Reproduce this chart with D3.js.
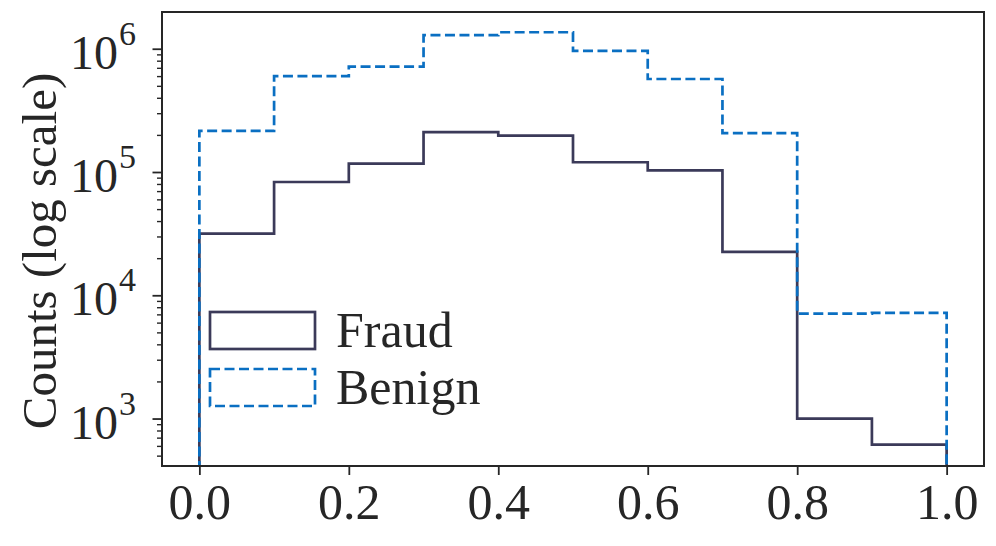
<!DOCTYPE html>
<html>
<head>
<meta charset="utf-8">
<script src="https://cdn.jsdelivr.net/npm/d3@7"></script>
<style>
  body { margin: 0; background: #fff; }
  svg { display: block; }
  text { font-family: "Liberation Serif", "Times New Roman", serif; fill: #262626; }
</style>
</head>
<body>
<svg id="chart" width="996" height="546"></svg>
<script>
// bins of the score histogram
var binEdges = [0.0, 0.1, 0.2, 0.3, 0.4, 0.5, 0.6, 0.7, 0.8, 0.9, 1.0];
var fraudCounts  = [31600, 83000, 117000, 211000, 197000, 120000, 103000, 22500, 1000, 615];
var benignCounts = [216000, 600000, 715000, 1290000, 1360000, 960000, 568000, 207000, 7100, 7200];
var xTicks = [0.0, 0.2, 0.4, 0.6, 0.8, 1.0];
var yTicks = [1e3, 1e4, 1e5, 1e6];
var seriesNames = ['Fraud', 'Benign'];

var W = 996, H = 546;
var m = {left: 162, right: 12, top: 12, bottom: 80};

var svg = d3.select('#chart');

var x = d3.scaleLinear().domain([-0.05, 1.05]).range([m.left, W - m.right]);
var y = d3.scaleLog().domain([Math.pow(10, 2.615), Math.pow(10, 6.298)]).range([H - m.bottom, m.top]);

svg.append('clipPath').attr('id', 'clip')
  .append('rect')
  .attr('x', m.left).attr('y', m.top)
  .attr('width', W - m.left - m.right).attr('height', H - m.top - m.bottom);

// step outline like hist(histtype='step')
function stepPath(counts) {
  var yb = H - m.bottom + 5;
  var p = 'M' + x(binEdges[0]) + ',' + yb;
  counts.forEach(function(c, i) {
    p += 'L' + x(binEdges[i]) + ',' + y(c) + 'L' + x(binEdges[i + 1]) + ',' + y(c);
  });
  p += 'L' + x(binEdges[binEdges.length - 1]) + ',' + yb;
  return p;
}

var g = svg.append('g').attr('clip-path', 'url(#clip)');
g.append('path')
  .attr('d', stepPath(fraudCounts))
  .attr('fill', 'none').attr('stroke', '#3b3a59').attr('stroke-width', 2.7)
  .attr('stroke-linejoin', 'miter');
g.append('path')
  .attr('d', stepPath(benignCounts))
  .attr('fill', 'none').attr('stroke', '#0a6fc2').attr('stroke-width', 2.7)
  .attr('stroke-dasharray', '10,4.5');

// x axis
var xAxis = svg.append('g')
  .attr('transform', 'translate(0,' + (H - m.bottom) + ')')
  .call(d3.axisBottom(x).tickValues(xTicks).tickSize(9).tickPadding(8).tickFormat(d3.format('.1f')));
xAxis.select('.domain').remove();
xAxis.selectAll('line').attr('stroke', '#262626').attr('stroke-width', 1.8);
xAxis.selectAll('text').style('font-size', '50px').attr('fill', '#262626');

// y axis: minor ticks then majors
var minor = [];
for (var e = 2; e <= 6; e++) {
  for (var k = 2; k <= 9; k++) {
    var v = k * Math.pow(10, e);
    if (v >= y.domain()[0] && v <= y.domain()[1]) minor.push(v);
  }
}
var yMinor = svg.append('g')
  .attr('transform', 'translate(' + m.left + ',0)')
  .call(d3.axisLeft(y).tickValues(minor).tickSize(5).tickFormat(''));
yMinor.select('.domain').remove();
yMinor.selectAll('line').attr('stroke', '#262626').attr('stroke-width', 1.4);

var yAxis = svg.append('g')
  .attr('transform', 'translate(' + m.left + ',0)')
  .call(d3.axisLeft(y).tickValues(yTicks).tickSize(9.5).tickFormat(''));
yAxis.select('.domain').remove();
yAxis.selectAll('line').attr('stroke', '#262626').attr('stroke-width', 1.8);

var yl = svg.append('g');
yTicks.forEach(function(t) {
  yl.append('text')
    .attr('x', 118).attr('y', y(t) + 20)
    .attr('text-anchor', 'end')
    .style('font-size', '48px')
    .text('10');
  yl.append('text')
    .attr('x', 119).attr('y', y(t) - 4)
    .style('font-size', '34px')
    .text(Math.round(Math.log10(t)));
});

// frame
svg.append('rect')
  .attr('x', m.left).attr('y', m.top)
  .attr('width', W - m.left - m.right).attr('height', H - m.top - m.bottom)
  .attr('fill', 'none').attr('stroke', '#262626').attr('stroke-width', 2);

// y label
svg.append('text')
  .attr('transform', 'translate(56,251) rotate(-90)')
  .attr('text-anchor', 'middle')
  .style('font-size', '49px')
  .text('Counts (log scale)');

// legend
var leg = svg.append('g');
seriesNames.forEach(function(name, i) {
  var ly = 312 + i * 57;
  var r = leg.append('rect')
    .attr('x', 210).attr('y', ly).attr('width', 105).attr('height', 37)
    .attr('fill', 'none')
    .attr('stroke', i === 0 ? '#3b3a59' : '#0a6fc2')
    .attr('stroke-width', 2.7);
  if (i === 1) r.attr('stroke-dasharray', '10,4.5');
  leg.append('text')
    .attr('x', 336).attr('y', ly + 35)
    .style('font-size', '50px')
    .text(name);
});
</script>
</body>
</html>
